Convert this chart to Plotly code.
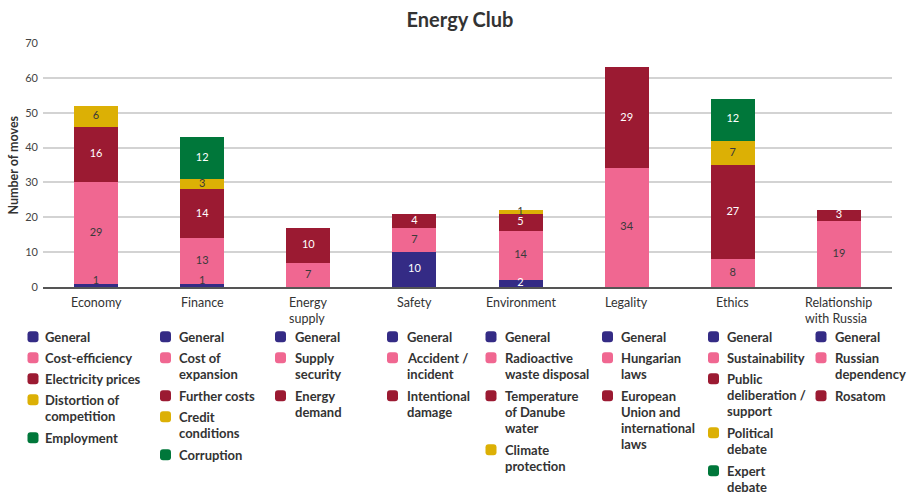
import plotly.graph_objects as go

# ---- data -------------------------------------------------------------
categories = ["Economy", "Finance", "Energy supply", "Safety", "Environment",
              "Legality", "Ethics", "Relationship with Russia"]
category_lines = ["Economy", "Finance", "Energy|supply", "Safety", "Environment",
                  "Legality", "Ethics", "Relationship|with Russia"]

# stack levels, bottom to top (0 = no segment)
level1 = [1, 1, 0, 10, 2, 0, 0, 0]          # General
level2 = [29, 13, 7, 7, 14, 34, 8, 19]
level3 = [16, 14, 10, 4, 5, 29, 27, 3]
level4 = [6, 3, 0, 0, 1, 0, 7, 0]
level5 = [0, 12, 0, 0, 0, 0, 12, 0]

colors = ["#342b85", "#f06791", "#9b1a32", "#dcb005", "#00773a"]
dark_text = [False, True, False, True, False]

# legend entries of each category (lines of one entry joined by "|")
legend_labels = [
    ["General", "Cost-efficiency", "Electricity prices", "Distortion of|competition", "Employment"],
    ["General", "Cost of|expansion", "Further costs", "Credit|conditions", "Corruption"],
    ["General", "Supply|security", "Energy|demand"],
    ["General", "Accident /|incident", "Intentional|damage"],
    ["General", "Radioactive|waste disposal", "Temperature|of Danube|water", "Climate|protection"],
    ["General", "Hungarian|laws", "European|Union and|international|laws"],
    ["General", "Sustainability", "Public|deliberation /|support", "Political|debate", "Expert|debate"],
    ["General", "Russian|dependency", "Rosatom"],
]

# ---- figure geometry (pixels) ----------------------------------------
W, H = 912, 493
ML, MR, MT, MB = 43, 20, 43, 206
PW, PH = W - ML - MR, H - MT - MB
FONT = "Lato"
TEXT = "#333333"


def px_x(px):
    return (px - ML) / PW


def px_y(py):
    return (H - MB - py) / PH


fig = go.Figure()
levels = [level1, level2, level3, level4, level5]
for k, vals in enumerate(levels):
    fig.add_trace(go.Bar(
        x=categories, y=[v if v else None for v in vals],
        marker=dict(color=colors[k], line=dict(width=0)),
        hoverinfo="skip", showlegend=False,
    ))

# segment value labels, drawn on top of every bar
lab_x, lab_y, lab_t, lab_c, lab_p = [], [], [], [], []
base = [0] * len(categories)
for k, vals in enumerate(levels):
    for i, v in enumerate(vals):
        if not v:
            continue
        lab_x.append(categories[i])
        lab_t.append(str(v))
        if v <= 1 and base[i] == 0:
            lab_y.append(0)
            lab_p.append("top center")
        else:
            lab_y.append(base[i] + v / 2)
            lab_p.append("middle center")
        lab_c.append("#3a3a3a" if (dark_text[k] or v <= 1) else "#ffffff")
        base[i] += v
fig.add_trace(go.Scatter(
    x=lab_x, y=lab_y, text=lab_t, mode="text", textposition=lab_p,
    textfont=dict(family=FONT, size=11, color=lab_c),
    hoverinfo="skip", showlegend=False, cliponaxis=False,
))

# ---- category labels (left-aligned lines) ----------------------------
annotations = []
for i, lab in enumerate(category_lines):
    annotations.append(dict(
        text=lab.replace("|", "<br>"), xref="x", yref="paper",
        x=categories[i], y=px_y(293), xanchor="center", yanchor="top",
        align="left", showarrow=False,
        font=dict(family=FONT, size=12.5, color=TEXT),
    ))

# ---- per-category legends --------------------------------------------
marker_cx = [33, 165.5, 280.5, 392.5, 491, 607.5, 713.5, 821]
text_x0 = [43, 177, 293, 404.5, 502.5, 619, 724.5, 833]
first_row_y = 336.7
line_h = 16
item_gap = 21
sq, rad = 11, 3

shapes = []
for c, items in enumerate(legend_labels):
    y = first_row_y
    for k, label in enumerate(items):
        lines = label.split("|")
        cx, cy = marker_cx[c], y
        x0, x1 = cx - sq / 2, cx + sq / 2
        y0, y1 = cy - sq / 2, cy + sq / 2
        X, Y = px_x, px_y
        path = (f"M {X(x0 + rad)} {Y(y0)} L {X(x1 - rad)} {Y(y0)} "
                f"Q {X(x1)} {Y(y0)} {X(x1)} {Y(y0 + rad)} L {X(x1)} {Y(y1 - rad)} "
                f"Q {X(x1)} {Y(y1)} {X(x1 - rad)} {Y(y1)} L {X(x0 + rad)} {Y(y1)} "
                f"Q {X(x0)} {Y(y1)} {X(x0)} {Y(y1 - rad)} L {X(x0)} {Y(y0 + rad)} "
                f"Q {X(x0)} {Y(y0)} {X(x0 + rad)} {Y(y0)} Z")
        shapes.append(dict(type="path", xref="paper", yref="paper", path=path,
                           fillcolor=colors[k], line=dict(width=0), layer="above"))
        for j, ln in enumerate(lines):
            annotations.append(dict(
                text=f"<b>{ln}</b>", xref="paper", yref="paper",
                x=px_x(text_x0[c]), y=px_y(y + j * line_h),
                xanchor="left", yanchor="middle", showarrow=False,
                font=dict(family=FONT, size=13, color=TEXT),
            ))
        y += item_gap + line_h * (len(lines) - 1) + (1 if len(lines) > 1 else 0)

# y-axis title
annotations.append(dict(
    text="<b>Number of moves</b>", xref="paper", yref="paper",
    x=px_x(12.5), y=0.5, xanchor="center", yanchor="middle", textangle=-90,
    showarrow=False, font=dict(family=FONT, size=12.5, color=TEXT),
))

fig.update_layout(
    width=W, height=H,
    margin=dict(l=ML, r=MR, t=MT, b=MB, pad=0),
    paper_bgcolor="white", plot_bgcolor="white",
    barmode="stack", bargap=0.585,
    title=dict(text="<b>Energy Club</b>", x=460 / W, xanchor="center",
               y=1 - 20 / H, yanchor="middle",
               font=dict(family=FONT, size=20, color=TEXT)),
    font=dict(family=FONT, color=TEXT),
    xaxis=dict(showgrid=False, showline=True, linecolor="#555555", linewidth=1.5,
               ticks="", showticklabels=False, fixedrange=True),
    yaxis=dict(range=[0, 70], dtick=10, showgrid=True, gridcolor="#d3d3d3", gridwidth=1.5,
               zeroline=False, ticks="", tickfont=dict(family=FONT, size=11, color="#444444"),
               ticklabelstandoff=4, fixedrange=True),
    shapes=shapes,
    annotations=annotations,
)

fig.write_html("out.html")
